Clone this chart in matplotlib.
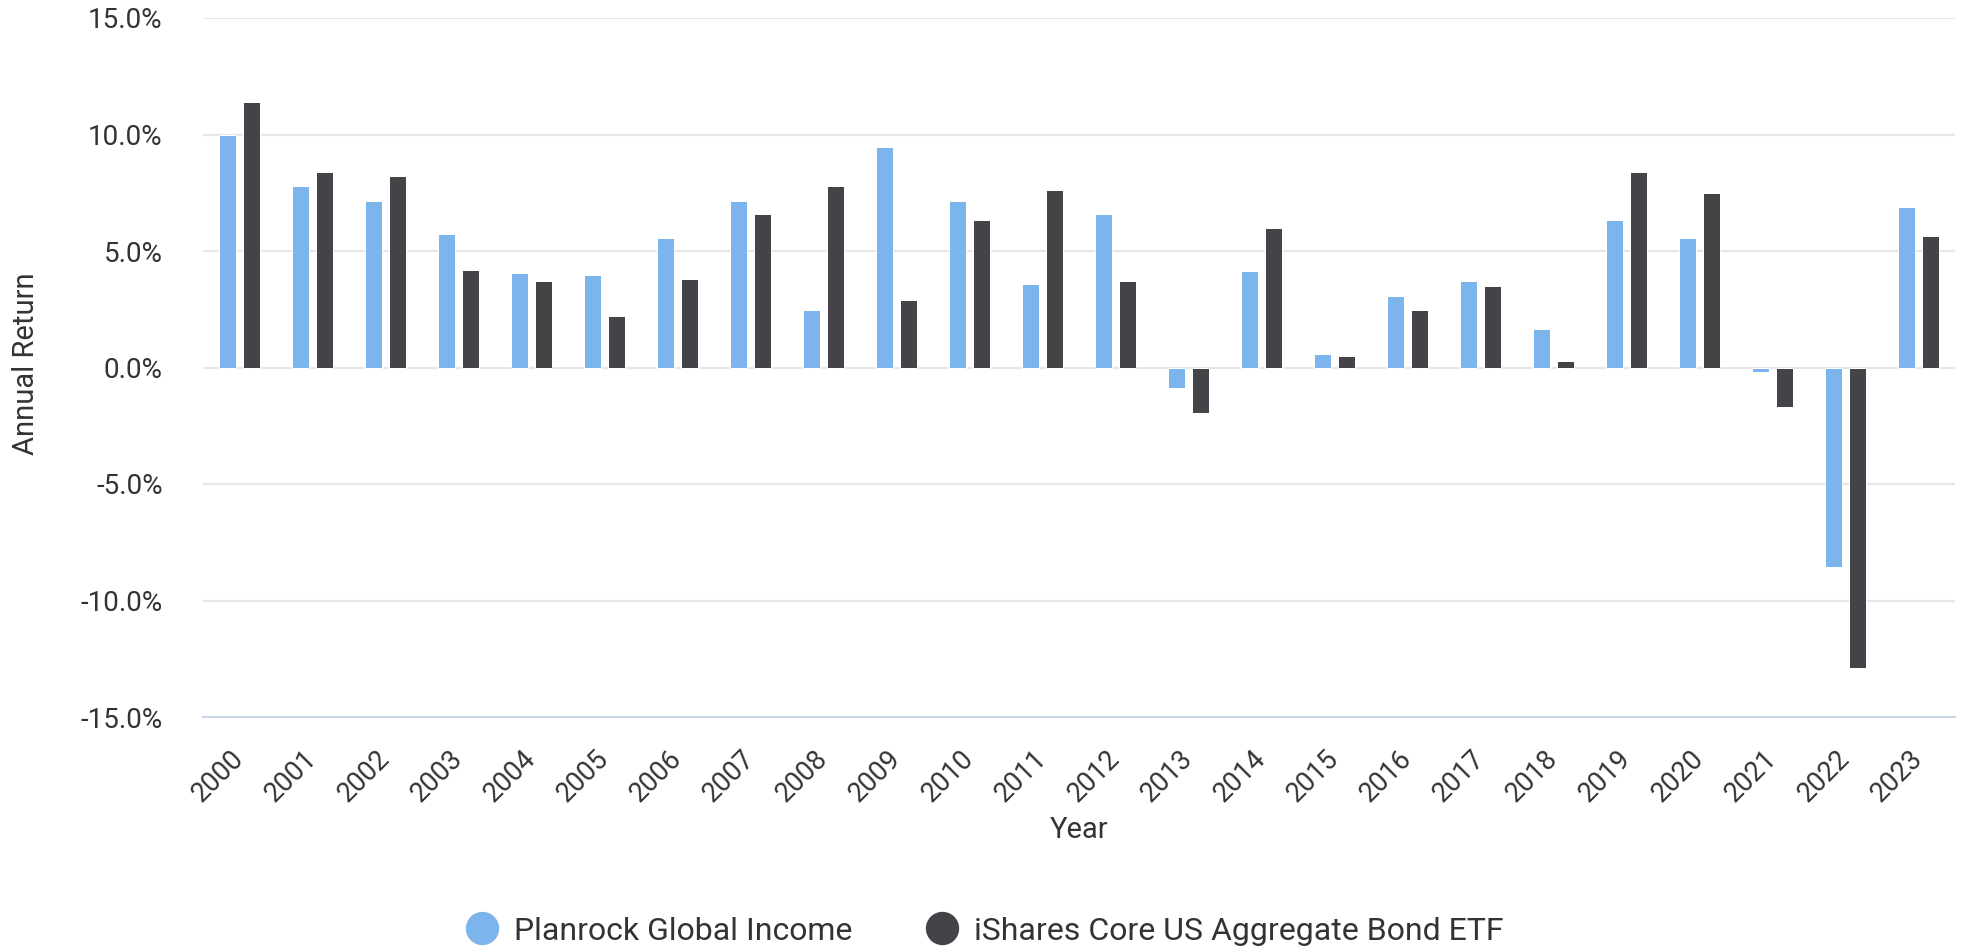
import matplotlib
matplotlib.use("Agg")
import matplotlib.pyplot as plt
from matplotlib.lines import Line2D
import numpy as np

plt.rcParams['font.family'] = ['Roboto', 'DejaVu Sans']

years = [str(y) for y in range(2000, 2024)]
planrock = [10.0, 7.8, 7.15, 5.75, 4.05, 3.95, 5.55, 7.15, 2.45, 9.45, 7.15, 3.6,
            6.6, -0.9, 4.15, 0.6, 3.05, 3.7, 1.65, 6.35, 5.55, -0.2, -8.55, 6.9]
ishares = [11.4, 8.4, 8.2, 4.2, 3.7, 2.2, 3.8, 6.6, 7.8, 2.9, 6.35, 7.6,
           3.7, -1.95, 6.0, 0.5, 2.45, 3.5, 0.3, 8.4, 7.5, -1.7, -12.9, 5.65]
series_names = ["Planrock Global Income", "iShares Core US Aggregate Bond ETF"]
yticks = [-15, -10, -5, 0, 5, 10, 15]

c_blue = "#7cb5ec"
c_dark = "#434348"
txt = "#333333"

W, H = 1967, 952
fig = plt.figure(figsize=(W / 100, H / 100), dpi=100)
left, right, top, bottom = 203, 1955, 18, 717
ax = fig.add_axes([left / W, 1 - bottom / H, (right - left) / W, (bottom - top) / H])

x = np.arange(len(years))
bw = 0.235
off = 0.16
ax.bar(x - off, planrock, width=bw, color=c_blue, edgecolor="white", linewidth=0.72, zorder=3)
ax.bar(x + off, ishares, width=bw, color=c_dark, edgecolor="white", linewidth=0.72, zorder=3)

ax.set_xlim(-0.5, len(years) - 0.5)
ax.set_ylim(-15, 15)

for yv in yticks[1:]:
    ax.axhline(yv, color="#e6e6e6", lw=1.5, zorder=1)
for s in ["top", "right", "left"]:
    ax.spines[s].set_visible(False)
ax.spines["bottom"].set_color("#ccd6eb")
ax.spines["bottom"].set_linewidth(1.5)

ax.set_yticks(yticks)
ax.set_yticklabels([f"{v:.1f}%" for v in yticks])
ax.tick_params(axis="y", length=0, pad=29, labelsize=20, labelcolor=txt)
ax.set_xticks(x)
ax.set_xticklabels(years, rotation=45, ha="right", va="center", rotation_mode="anchor")
ax.tick_params(axis="x", length=0, pad=27, labelsize=19.5, labelcolor=txt)

ax.set_ylabel("Annual Return", fontsize=21, color=txt, va="center")
ax.yaxis.set_label_coords(-0.101, 0.505)
ax.set_xlabel("Year", fontsize=21, color=txt, va="center")
ax.xaxis.set_label_coords(0.5, -0.162)

handles = [Line2D([], [], marker="o", linestyle="none", markersize=23, color=c_blue),
           Line2D([], [], marker="o", linestyle="none", markersize=23, color=c_dark)]
leg = fig.legend(handles, series_names, loc="center", bbox_to_anchor=(0.5, 1 - 931 / H),
                 ncol=2, frameon=False, fontsize=23, handletextpad=0.4,
                 columnspacing=2.2, handlelength=1.2)
for t in leg.get_texts():
    t.set_color(txt)

fig.savefig("out.png", dpi=100)
